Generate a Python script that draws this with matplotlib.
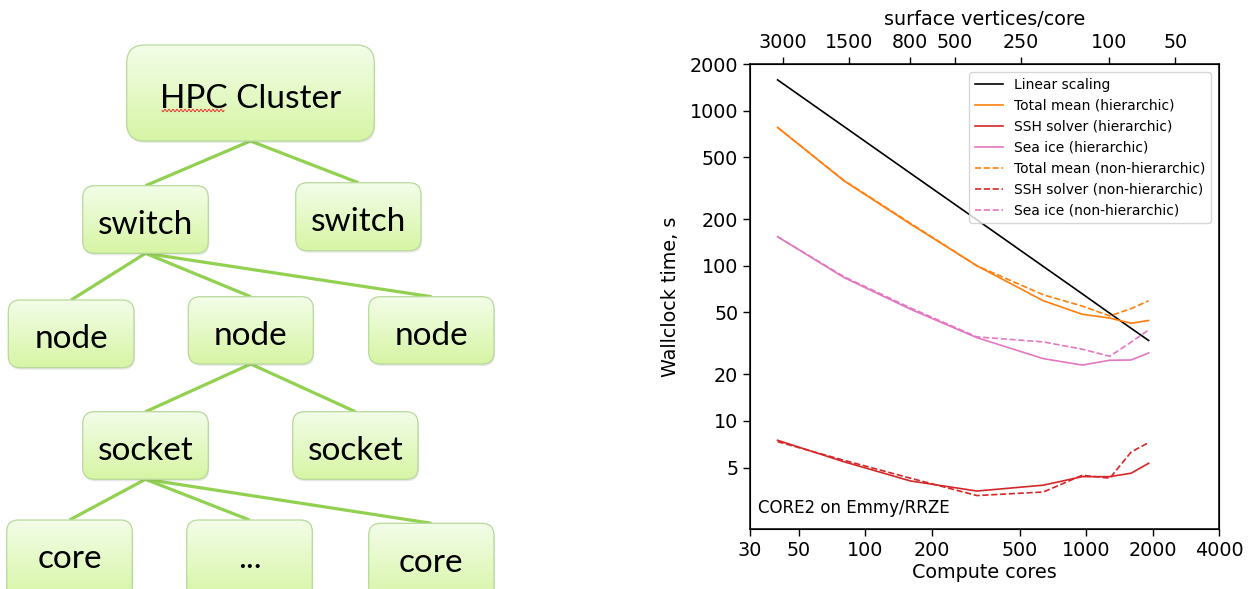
import numpy as np
import matplotlib
matplotlib.use("Agg")
import matplotlib.pyplot as plt
from matplotlib.patches import FancyBboxPatch
from matplotlib.ticker import FixedLocator, NullLocator, FixedFormatter

# ---------------- scaling data ----------------
cores = [40, 80, 160, 320, 640, 960, 1280, 1600, 1920]
linear_scaling = [1580, 790, 395, 198, 99, 66, 49.4, 39.5, 33]
total_hier = [780, 353, 186, 100, 59.5, 48.7, 46.0, 42.6, 44.4]
ssh_hier = [7.5, 5.45, 4.1, 3.53, 3.85, 4.37, 4.37, 4.6, 5.33]
seaice_hier = [154, 84, 52.5, 34.4, 25.2, 22.9, 24.6, 24.7, 27.4]
total_nonhier = [780, 355, 188, 100, 65, 55, 47.5, 53, 59.5]
ssh_nonhier = [7.35, 5.57, 4.27, 3.3, 3.48, 4.46, 4.27, 6.3, 7.25]
seaice_nonhier = [154, 85, 53.5, 34.8, 32.3, 29, 26.1, 32.2, 38.6]

y_ticks = [5, 10, 20, 50, 100, 200, 500, 1000, 2000]
x_ticks = [30, 50, 100, 200, 500, 1000, 2000, 4000]
vertex_ticks = [3000, 1500, 800, 500, 250, 100, 50]
n_surface_vertices = 126858  # CORE2 mesh

# ---------------- hierarchy diagram data ----------------
boxes = {
    "cluster": (126.7, 45, 374.3, 141, "HPC Cluster"),
    "switch1": (82.7, 185.7, 208.3, 253.3, "switch"),
    "switch2": (295.7, 182.7, 421, 250.7, "switch"),
    "node1": (8.3, 300, 134, 367.7, "node"),
    "node2": (188.3, 296.7, 313.3, 364, "node"),
    "node3": (368.7, 296.7, 494, 364, "node"),
    "socket1": (82.7, 411.7, 208.3, 479.3, "socket"),
    "socket2": (292.7, 411.7, 418, 479.3, "socket"),
    "core1": (6.7, 520, 132.3, 588, "core"),
    "dots": (186.7, 520, 312.3, 588, "..."),
    "core2": (368.7, 523.3, 494, 591.3, "core"),
}
edges = [
    ("cluster", "switch1"), ("cluster", "switch2"),
    ("switch1", "node1"), ("switch1", "node2"), ("switch1", "node3"),
    ("node2", "socket1"), ("node2", "socket2"),
    ("socket1", "core1"), ("socket1", "dots"), ("socket1", "core2"),
]

W, H = 1253, 589
fig = plt.figure(figsize=(W / 100, H / 100), dpi=100)

# ---------------- left: hierarchy diagram ----------------
axd = fig.add_axes([0, 0, 500 / W, 1])
axd.set_xlim(0, 500)
axd.set_ylim(H, 0)
axd.axis("off")

line_green = "#92d050"
for parent, child in edges:
    px0, py0, px1, py1, _ = boxes[parent]
    cx0, cy0, cx1, cy1, _ = boxes[child]
    axd.plot([(px0 + px1) / 2, (cx0 + cx1) / 2], [py1, cy0],
             color=line_green, lw=2.3, solid_capstyle="butt", zorder=1)

top_col = np.array([0.953, 0.992, 0.910])
bot_col = np.array([0.843, 0.961, 0.647])
grad = np.linspace(0, 1, 64)[:, None, None]
grad_img = top_col[None, None, :] * (1 - grad) + bot_col[None, None, :] * grad

for key, (x0, y0, x1, y1, label) in boxes.items():
    r = 18 if key == "cluster" else 12
    # bottom row runs off the lower edge of the figure
    y_draw = y1 + 12 if y1 > 585 else y1
    shadow = FancyBboxPatch((x0 + 1.0, y0 + 2.0), x1 - x0, y_draw - y0,
                            boxstyle=f"round,pad=0,rounding_size={r}",
                            fc="#808080", ec="none", alpha=0.18, zorder=2)
    axd.add_patch(shadow)
    patch = FancyBboxPatch((x0, y0), x1 - x0, y_draw - y0,
                           boxstyle=f"round,pad=0,rounding_size={r}",
                           fc="none", ec="#b7d99a", lw=0.9, zorder=4)
    axd.add_patch(patch)
    im = axd.imshow(grad_img, extent=(x0, x1, y_draw, y0), aspect="auto",
                    interpolation="bilinear", zorder=3)
    im.set_clip_path(patch)
    cy = (y0 + y1) / 2
    axd.text((x0 + x1) / 2, cy + 14.5, label, ha="center", va="baseline",
             fontsize=24, family="Lato", color="black", zorder=5)

# spell-check squiggle under "HPC"
wx = np.linspace(162, 224, 200)
axd.plot(wx, 110.5 + 1.2 * np.sin((wx - 162) / 4.0 * 2 * np.pi),
         color="#e8372f", lw=0.7, zorder=6)
axd.set_xlim(0, 500)
axd.set_ylim(H, 0)

# ---------------- right: strong scaling plot ----------------
ax = fig.add_axes([750 / W, 1 - 529.3 / H, 469 / W, (529.3 - 64) / H])
c_orange, c_red, c_pink = "#ff7f0e", "#d62728", "#e377c2"
lw = 1.2
ax.plot(cores, linear_scaling, color="black", lw=lw, label="Linear scaling")
ax.plot(cores, total_hier, color=c_orange, lw=lw, label="Total mean (hierarchic)")
ax.plot(cores, ssh_hier, color=c_red, lw=lw, label="SSH solver (hierarchic)")
ax.plot(cores, seaice_hier, color=c_pink, lw=lw, label="Sea ice (hierarchic)")
ax.plot(cores, total_nonhier, color=c_orange, lw=lw, ls="--",
        label="Total mean (non-hierarchic)")
ax.plot(cores, ssh_nonhier, color=c_red, lw=lw, ls="--",
        label="SSH solver (non-hierarchic)")
ax.plot(cores, seaice_nonhier, color=c_pink, lw=lw, ls="--",
        label="Sea ice (non-hierarchic)")

ax.set_xscale("log")
ax.set_yscale("log")
ax.set_xlim(30, 4000)
ax.set_ylim(2, 2000)
ax.xaxis.set_major_locator(FixedLocator(x_ticks))
ax.xaxis.set_major_formatter(FixedFormatter([str(t) for t in x_ticks]))
ax.xaxis.set_minor_locator(NullLocator())
ax.yaxis.set_major_locator(FixedLocator(y_ticks))
ax.yaxis.set_major_formatter(FixedFormatter([str(t) for t in y_ticks]))
ax.yaxis.set_minor_locator(NullLocator())
ax.tick_params(labelsize=13.8, direction="out", length=5, width=1)
for s in ax.spines.values():
    s.set_linewidth(1.1)
ax.set_xlabel("Compute cores", fontsize=13.8, labelpad=2)
ax.set_ylabel("Wallclock time, s", fontsize=13.8, labelpad=7)

ax.text(0.018, 0.034, "CORE2 on Emmy/RRZE", transform=ax.transAxes,
        fontsize=12, va="baseline", ha="left")

leg = ax.legend(loc="upper right", fontsize=10, framealpha=0.8,
                edgecolor="0.8", borderaxespad=0.6)

ax2 = ax.twiny()
ax2.set_xscale("log")
ax2.set_xlim(ax.get_xlim())
ax2.xaxis.set_major_locator(FixedLocator([n_surface_vertices / v for v in vertex_ticks]))
ax2.xaxis.set_major_formatter(FixedFormatter([str(v) for v in vertex_ticks]))
ax2.xaxis.set_minor_locator(NullLocator())
ax2.tick_params(labelsize=13.8, direction="out", length=5, width=1)
ax2.set_xlabel("surface vertices/core", fontsize=13.8, labelpad=6)

fig.savefig("out.png", dpi=100)
